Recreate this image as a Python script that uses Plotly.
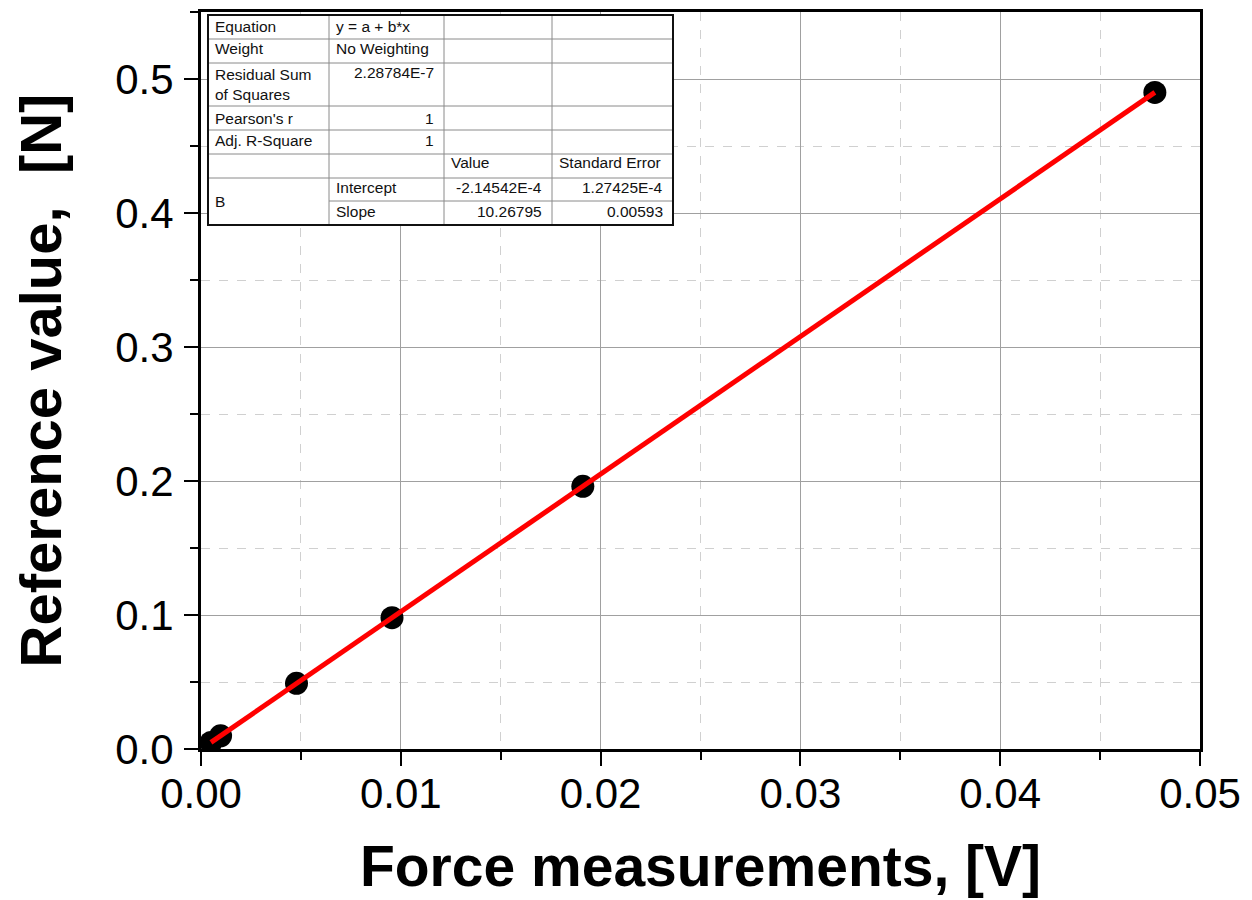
import plotly.graph_objects as go

# ---- data ----
force_v = [0.0005, 0.00098, 0.00478, 0.00956, 0.01911, 0.04774]
reference_n = [0.0049, 0.0098, 0.049, 0.098, 0.196, 0.49]

# fit parameters (from the table in the chart)
fit_intercept = -2.14542e-4
fit_slope = 10.26795

table_rows = [
    ["Equation", "y = a + b*x", "", ""],
    ["Weight", "No Weighting", "", ""],
    ["Residual Sum<br>of Squares", "2.28784E-7", "", ""],
    ["Pearson's r", "1", "", ""],
    ["Adj. R-Square", "1", "", ""],
    ["", "", "Value", "Standard Error"],
    ["B", "Intercept", "-2.14542E-4", "1.27425E-4"],
    ["", "Slope", "10.26795", "0.00593"],
]

x_ticks = [0.0, 0.01, 0.02, 0.03, 0.04, 0.05]
y_ticks = [0.0, 0.1, 0.2, 0.3, 0.4, 0.5]

# ---- figure geometry (page body has an 8px margin) ----
OFF = 8
W, H = 1252 - OFF, 900 - OFF
L, T = 201 - OFF, 12 - OFF
PW, PH = 999, 737
R, B = W - L - PW, H - T - PH


def px(x):
    # screen pixel x -> paper
    return (x - OFF - L) / PW


def py(y):
    # screen pixel y -> paper
    return (T + PH - (y - OFF)) / PH


fig = go.Figure()

fit_x = [force_v[0], force_v[-1]]
fit_y = [fit_intercept + fit_slope * v for v in fit_x]

fig.add_trace(go.Scatter(
    x=force_v, y=reference_n, mode="markers",
    marker=dict(color="black", size=23),
    name="B", showlegend=False,
))
fig.add_trace(go.Scatter(
    x=fit_x, y=fit_y, mode="lines",
    line=dict(color="#ff0000", width=5),
    name="Linear Fit", showlegend=False,
))

# ---- fit results table ----
cols = [208, 329, 444, 552, 673]
rows = [15, 39, 63, 106, 130, 154, 178, 201, 225]
shapes = []
shapes.append(dict(type="rect", xref="paper", yref="paper",
                   x0=px(cols[0]), x1=px(cols[-1]), y0=py(rows[-1]), y1=py(rows[0]),
                   fillcolor="white", line=dict(width=0), layer="above"))
inner = dict(color="#8a8a8a", width=1)
for yy in rows[1:-1]:
    x_start = cols[1] if yy == 201 else cols[0]
    shapes.append(dict(type="line", xref="paper", yref="paper",
                       x0=px(x_start), x1=px(cols[-1]), y0=py(yy), y1=py(yy),
                       line=inner, layer="above"))
for xx in cols[1:-1]:
    shapes.append(dict(type="line", xref="paper", yref="paper",
                       x0=px(xx), x1=px(xx), y0=py(rows[-1]), y1=py(rows[0]),
                       line=inner, layer="above"))
shapes.append(dict(type="rect", xref="paper", yref="paper",
                   x0=px(cols[0]), x1=px(cols[-1]), y0=py(rows[-1]), y1=py(rows[0]),
                   line=dict(color="#111111", width=2), layer="above"))

annotations = []
tfont = dict(family="Arial, Liberation Sans, sans-serif", size=15.5, color="#111111")
row_text_y = [26, 49, 84, 118, 141, 163, 187, 211]
for r, row in enumerate(table_rows):
    for c, txt in enumerate(row):
        if not txt:
            continue
        yc = row_text_y[r]
        if r == 2 and c == 1:
            yc = 73
        if r == 6 and c == 0:
            yc = 201
        numeric = (c >= 1 and r in (2, 3, 4)) or (c >= 2 and r in (6, 7))
        if numeric:
            xa, anchor = cols[c + 1] - 8, "right"
        else:
            xa, anchor = cols[c] + 5, "left"
        annotations.append(dict(
            text=txt, x=px(xa), y=py(yc), xref="paper", yref="paper",
            xanchor=anchor, yanchor="middle", showarrow=False,
            font=tfont, align="left",
        ))

axis_font = dict(family="Arial, Liberation Sans, sans-serif", size=42, color="black")
xtitle_font = dict(family="Arial, Liberation Sans, sans-serif", size=57, color="black",
                   weight="bold")
ytitle_font = dict(family="Arial, Liberation Sans, sans-serif", size=58, color="black",
                   weight="bold")

fig.update_layout(
    width=W, height=H,
    margin=dict(l=L, r=R, t=T, b=B, autoexpand=False),
    paper_bgcolor="white", plot_bgcolor="white",
    shapes=shapes, annotations=annotations,
    xaxis=dict(
        range=[0, 0.05], tickvals=x_ticks, tickformat=".2f", automargin=False,
        showline=True, linecolor="black", linewidth=3, mirror=True,
        ticks="outside", ticklen=14, tickwidth=2, tickcolor="black",
        ticklabelstandoff=-8,
        showgrid=True, gridcolor="#a0a0a0", gridwidth=1, zeroline=False,
        minor=dict(dtick=0.005, ticks="outside", ticklen=8, tickwidth=2, tickcolor="black",
                   showgrid=True, gridcolor="#d0d0d0", griddash="dash", gridwidth=1),
        tickfont=axis_font,
        title=dict(text="Force measurements, [V]", font=xtitle_font, standoff=30),
    ),
    yaxis=dict(
        range=[0, 0.55], tickvals=y_ticks, tickformat=".1f", automargin=False,
        showline=True, linecolor="black", linewidth=3, mirror=True,
        ticks="outside", ticklen=14, tickwidth=2, tickcolor="black",
        ticklabelstandoff=2,
        showgrid=True, gridcolor="#a0a0a0", gridwidth=1, zeroline=False,
        minor=dict(dtick=0.05, ticks="outside", ticklen=8, tickwidth=2, tickcolor="black",
                   showgrid=True, gridcolor="#d0d0d0", griddash="dash", gridwidth=1),
        tickfont=axis_font,
        title=dict(text="Reference value,  [N]", font=ytitle_font, standoff=62),
    ),
)

fig.write_html("out.html")
